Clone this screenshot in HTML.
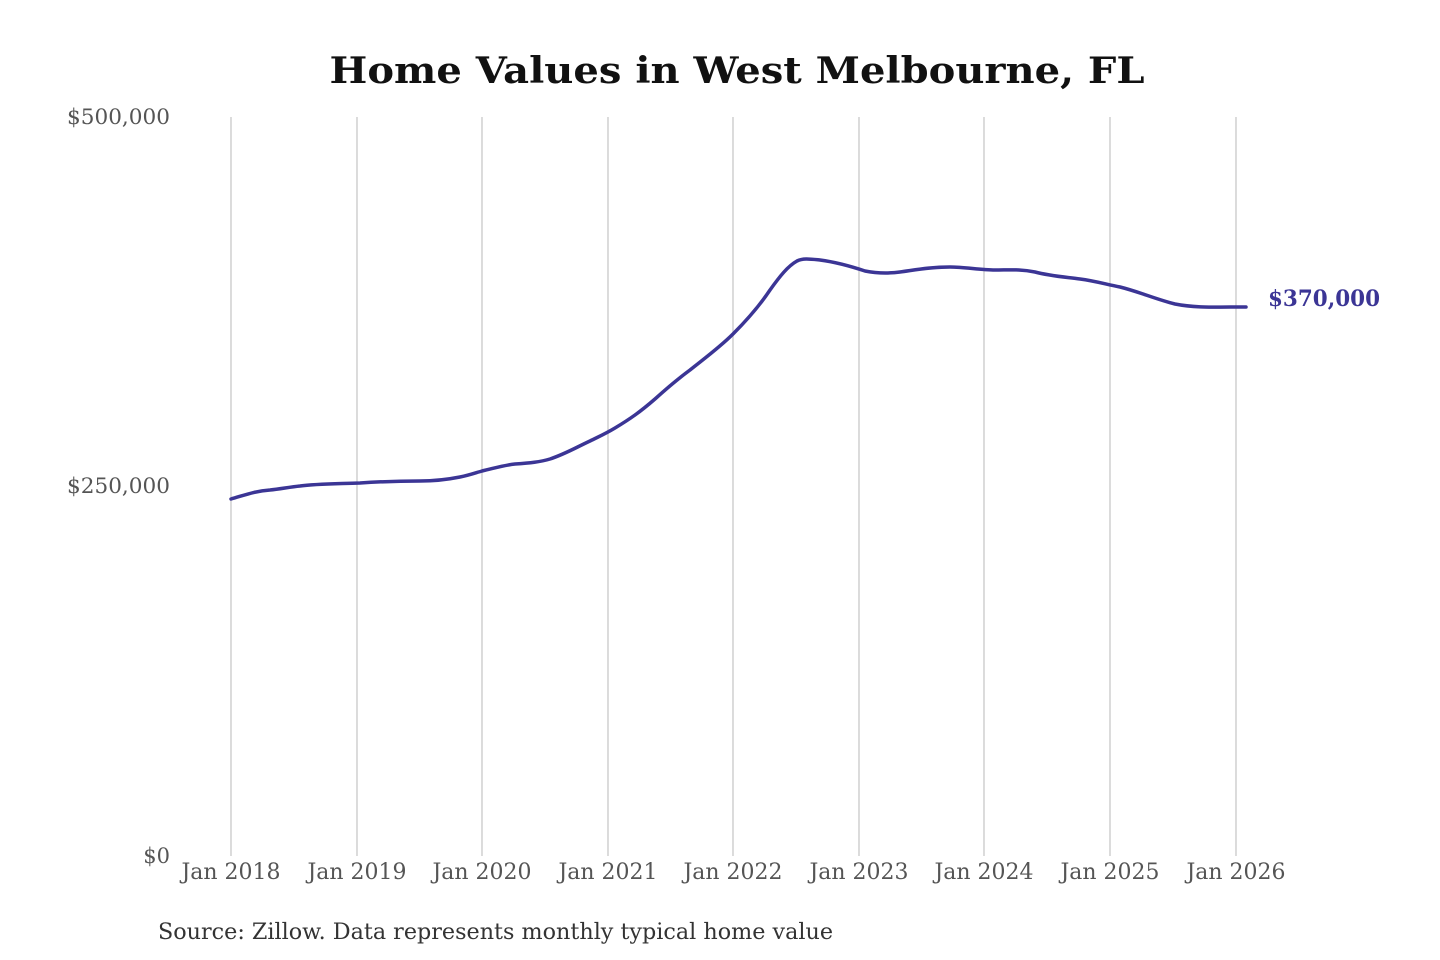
<!DOCTYPE html>
<html><head><meta charset="utf-8"><style>html,body{margin:0;padding:0;background:#fff}svg{display:block}text{font-family:"DejaVu Serif","Liberation Serif",serif}</style></head>
<body>
<svg width="1440" height="960" viewBox="0 0 1440 960" xmlns="http://www.w3.org/2000/svg">
<rect width="1440" height="960" fill="#fff"/>
<text x="737" y="83" text-anchor="middle" font-size="36" font-weight="bold" fill="#111" textLength="815" lengthAdjust="spacingAndGlyphs">Home Values in West Melbourne, FL</text>
<g stroke="#c8c8c8" stroke-width="1.3">
<line x1="231" y1="117" x2="231" y2="856"/><line x1="357" y1="117" x2="357" y2="856"/>
<line x1="482" y1="117" x2="482" y2="856"/><line x1="608" y1="117" x2="608" y2="856"/>
<line x1="733" y1="117" x2="733" y2="856"/><line x1="859" y1="117" x2="859" y2="856"/>
<line x1="984" y1="117" x2="984" y2="856"/><line x1="1110" y1="117" x2="1110" y2="856"/>
<line x1="1236" y1="117" x2="1236" y2="856"/>
</g>
<g font-size="21" fill="#555">
<text x="170" y="124" text-anchor="end" textLength="103" lengthAdjust="spacingAndGlyphs">$500,000</text>
<text x="170" y="493" text-anchor="end" textLength="103" lengthAdjust="spacingAndGlyphs">$250,000</text>
<text x="170" y="863" text-anchor="end">$0</text>
</g>
<g font-size="22" fill="#555" text-anchor="middle">
<text x="231" y="879" textLength="99" lengthAdjust="spacingAndGlyphs">Jan 2018</text>
<text x="357" y="879" textLength="99" lengthAdjust="spacingAndGlyphs">Jan 2019</text>
<text x="482" y="879" textLength="99" lengthAdjust="spacingAndGlyphs">Jan 2020</text>
<text x="608" y="879" textLength="99" lengthAdjust="spacingAndGlyphs">Jan 2021</text>
<text x="733" y="879" textLength="99" lengthAdjust="spacingAndGlyphs">Jan 2022</text>
<text x="859" y="879" textLength="99" lengthAdjust="spacingAndGlyphs">Jan 2023</text>
<text x="984" y="879" textLength="99" lengthAdjust="spacingAndGlyphs">Jan 2024</text>
<text x="1110" y="879" textLength="99" lengthAdjust="spacingAndGlyphs">Jan 2025</text>
<text x="1236" y="879" textLength="99" lengthAdjust="spacingAndGlyphs">Jan 2026</text>
</g>
<text x="158" y="939" font-size="22" fill="#333" textLength="675" lengthAdjust="spacingAndGlyphs">Source: Zillow. Data represents monthly typical home value</text>
<path fill="none" stroke="#3b3595" stroke-width="3.5" stroke-linejoin="round" stroke-linecap="round"
d="M231,499 C245,495 255,491 270,490 C280,489 290,487 300,486 C315,484 330,484 360,483 C375,482 390,481 420,481 C435,481 445,480 460,477 C470,475 475,473 482,471 C495,468 505,465 515,464 C530,463 540,462 550,459 C565,454 575,448 590,441 C600,436 605,434 615,428 C630,419 640,412 655,399 C665,390 675,381 690,370 C705,358 720,347 733,334 C745,322 758,308 770,290 C780,276 788,266 797,261 C803,258 810,259 820,260 C835,262 850,266 865,271 C875,273 885,274 900,272 C915,270 930,267 950,267 C965,267 980,270 995,270 C1010,270 1020,269 1035,272 C1050,276 1065,277 1080,279 C1095,281 1105,284 1120,287 C1140,292 1155,299 1175,304 C1195,308 1215,307 1246,307"/>
<text x="1268" y="306" font-size="22" font-weight="bold" fill="#3b3595" textLength="112" lengthAdjust="spacingAndGlyphs">$370,000</text>
</svg>
</body></html>
